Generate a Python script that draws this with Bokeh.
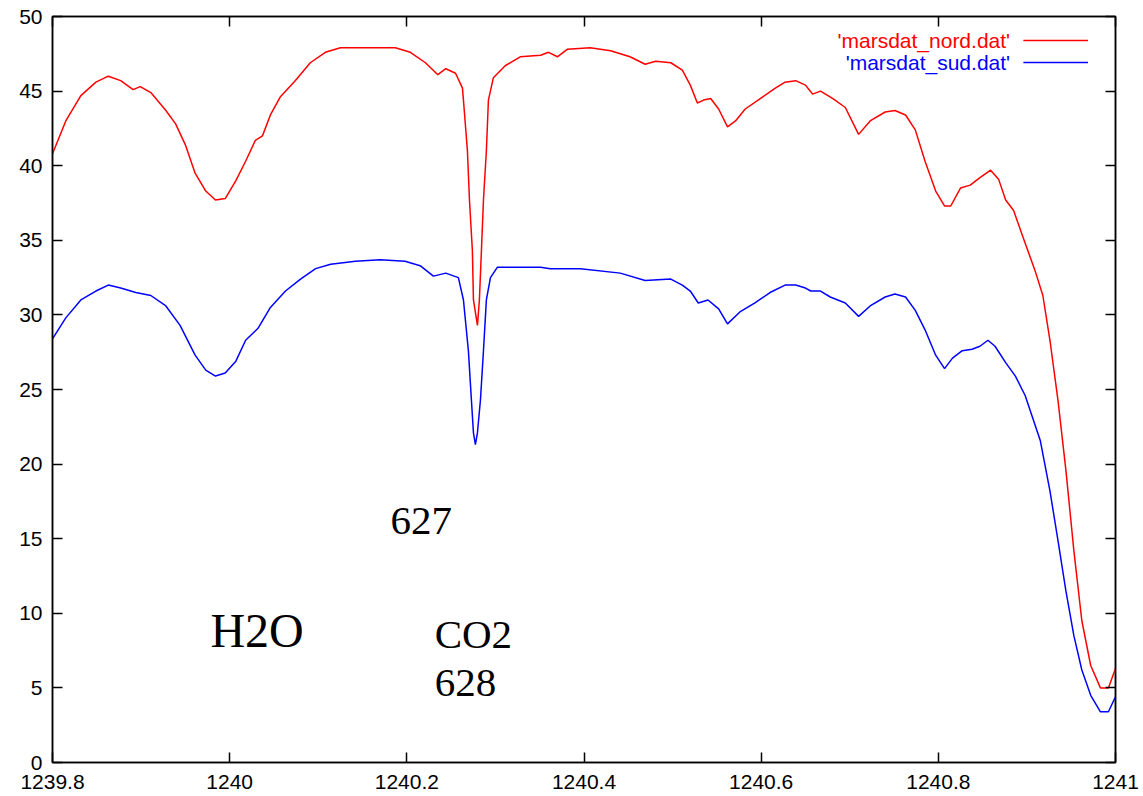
from bokeh.plotting import figure
from bokeh.models import Range1d, FixedTicker, LinearAxis, Label
from bokeh.embed import file_html
from bokeh.resources import INLINE

# ---- data ----
nord_x = [1239.800, 1239.815, 1239.832, 1239.849, 1239.863, 1239.877, 1239.891, 1239.899,
          1239.911, 1239.928, 1239.939, 1239.950, 1239.961, 1239.973, 1239.984, 1239.995,
          1240.007, 1240.018, 1240.029, 1240.037, 1240.046, 1240.057, 1240.074, 1240.091,
          1240.108, 1240.125, 1240.159, 1240.187, 1240.204, 1240.221, 1240.235, 1240.244,
          1240.255, 1240.2628, 1240.2639, 1240.2684, 1240.2707, 1240.2740, 1240.2752,
          1240.2797, 1240.2819, 1240.2842, 1240.2865, 1240.2898, 1240.2921, 1240.2977,
          1240.311, 1240.328, 1240.351, 1240.360, 1240.370, 1240.381,
          1240.407, 1240.430, 1240.452, 1240.469, 1240.481, 1240.498, 1240.511, 1240.520,
          1240.528, 1240.535, 1240.543, 1240.552, 1240.562, 1240.571, 1240.582, 1240.599,
          1240.616, 1240.627, 1240.639, 1240.650, 1240.658, 1240.667, 1240.681, 1240.695,
          1240.710, 1240.723, 1240.740, 1240.751, 1240.763, 1240.774, 1240.785, 1240.797,
          1240.807, 1240.814, 1240.825, 1240.836, 1240.847, 1240.859, 1240.868, 1240.876,
          1240.885, 1240.895, 1240.909, 1240.918, 1240.926, 1240.935, 1240.944, 1240.953,
          1240.962, 1240.972, 1240.983, 1240.992, 1241.000]
nord_y = [40.8, 43.0, 44.7, 45.6, 46.0, 45.7, 45.1, 45.3,
          44.9, 43.7, 42.8, 41.4, 39.5, 38.3, 37.7, 37.8,
          39.0, 40.3, 41.7, 42.0, 43.4, 44.6, 45.7, 46.9,
          47.6, 47.9, 47.9, 47.9, 47.6, 46.9, 46.1, 46.5,
          46.2, 45.2, 44.4, 41.0, 37.7, 34.3, 31.0,
          29.3, 31.0, 34.3, 37.7, 41.0, 44.4, 45.9,
          46.7, 47.3, 47.4, 47.6, 47.3, 47.8,
          47.9, 47.7, 47.3, 46.8, 47.0, 46.9, 46.4, 45.4,
          44.2, 44.4, 44.5, 43.8, 42.6, 43.0, 43.8, 44.5,
          45.2, 45.6, 45.7, 45.4, 44.8, 45.0, 44.5, 43.9,
          42.1, 43.0, 43.6, 43.7, 43.4, 42.4, 40.3, 38.3,
          37.3, 37.3, 38.5, 38.7, 39.2, 39.7, 39.1, 37.7,
          37.0, 35.3, 33.0, 31.3, 28.3, 24.3, 19.6, 14.2,
          9.5, 6.5, 5.0, 5.0, 6.3]

sud_x = [1239.800, 1239.815, 1239.832, 1239.849, 1239.863, 1239.877, 1239.894, 1239.911,
         1239.928, 1239.944, 1239.961, 1239.973, 1239.984, 1239.995, 1240.007, 1240.018,
         1240.032, 1240.046, 1240.063, 1240.080, 1240.097, 1240.114, 1240.142, 1240.170,
         1240.198, 1240.215, 1240.230, 1240.244, 1240.2582, 1240.2639, 1240.2695,
         1240.2729, 1240.2752, 1240.2774, 1240.2797, 1240.2831, 1240.2865, 1240.2898,
         1240.2944, 1240.3023, 1240.322,
         1240.351, 1240.362, 1240.396, 1240.441, 1240.469, 1240.498, 1240.511, 1240.520,
         1240.529, 1240.540, 1240.552, 1240.562, 1240.576, 1240.593, 1240.610, 1240.627,
         1240.639, 1240.650, 1240.656, 1240.667, 1240.678, 1240.695, 1240.710, 1240.723,
         1240.740, 1240.751, 1240.763, 1240.774, 1240.785, 1240.797, 1240.807, 1240.816,
         1240.827, 1240.838, 1240.847, 1240.856, 1240.864, 1240.876, 1240.887, 1240.898,
         1240.915, 1240.926, 1240.935, 1240.944, 1240.953, 1240.962, 1240.972, 1240.983,
         1240.992, 1241.000]
sud_y = [28.4, 29.8, 31.0, 31.6, 32.0, 31.8, 31.5, 31.3,
         30.6, 29.3, 27.3, 26.3, 25.9, 26.1, 26.9, 28.3,
         29.1, 30.5, 31.6, 32.4, 33.1, 33.4, 33.6, 33.7,
         33.6, 33.3, 32.6, 32.8, 32.5, 31.0, 27.6,
         24.3, 22.1, 21.3, 22.1, 24.3, 27.6, 31.0,
         32.5, 33.2, 33.2,
         33.2, 33.1, 33.1, 32.8, 32.3, 32.4, 32.0, 31.6,
         30.8, 31.0, 30.4, 29.4, 30.2, 30.8, 31.5, 32.0,
         32.0, 31.8, 31.6, 31.6, 31.2, 30.8, 29.9, 30.6,
         31.2, 31.4, 31.2, 30.3, 29.0, 27.3, 26.4, 27.1,
         27.6, 27.7, 27.9, 28.3, 27.9, 26.8, 25.9, 24.6,
         21.6, 18.2, 14.9, 11.5, 8.5, 6.2, 4.5, 3.4,
         3.4, 4.4]

series_names = ["'marsdat_nord.dat'", "'marsdat_sud.dat'"]
series_colors = ["#ff0000", "#0000ff"]

x_ticks = [1239.8, 1240.0, 1240.2, 1240.4, 1240.6, 1240.8, 1241.0]
x_tick_labels = ["1239.8", "1240", "1240.2", "1240.4", "1240.6", "1240.8", "1241"]
y_ticks = [0, 5, 10, 15, 20, 25, 30, 35, 40, 45, 50]

annotations = ["627", "H2O", "CO2", "628"]
ann_x = [1240.1815, 1239.9783, 1240.2314, 1240.2314]
ann_y = [16.2, 8.85, 8.6, 5.3]
ann_size = ["41px", "48px", "41px", "41px"]

# ---- figure ----
p = figure(width=1143, height=796, output_backend="svg", toolbar_location=None,
           x_range=Range1d(1239.8, 1241.0), y_range=Range1d(0, 50),
           min_border_left=52, min_border_right=28, min_border_top=16, min_border_bottom=34)
p.background_fill_color = "white"
p.border_fill_color = "white"
p.outline_line_color = "black"
p.outline_line_width = 1.5
p.xgrid.visible = False
p.ygrid.visible = False

def style_axis(ax, ticks, show_labels):
    ax.ticker = FixedTicker(ticks=ticks)
    ax.axis_line_color = "black"
    ax.axis_line_width = 1.5
    ax.major_tick_in = 10
    ax.major_tick_out = 0
    ax.major_tick_line_width = 1.5
    ax.minor_tick_line_color = None
    ax.major_label_text_font = "Liberation Sans"
    ax.major_label_text_font_size = "21px" if show_labels else "0px"
    ax.major_label_text_color = "black" if show_labels else None
    ax.major_label_standoff = 7

style_axis(p.xaxis[0], x_ticks, True)
p.xaxis[0].major_label_overrides = {t: l for t, l in zip(x_ticks, x_tick_labels)}
p.xaxis[0].major_label_standoff = 12
style_axis(p.yaxis[0], y_ticks, True)
p.yaxis[0].major_label_standoff = 10

top_axis = LinearAxis()
style_axis(top_axis, x_ticks, False)
p.add_layout(top_axis, "above")
right_axis = LinearAxis()
style_axis(right_axis, y_ticks, False)
p.add_layout(right_axis, "right")

p.line(nord_x, nord_y, line_color=series_colors[0], line_width=1.5)
p.line(sud_x, sud_y, line_color=series_colors[1], line_width=1.5)

# legend (gnuplot style: text right-aligned, sample line to the right)
leg_text_x = 1240.881
leg_line_x0, leg_line_x1 = 1240.896, 1240.969
leg_y = [48.39, 46.92]
for name, col, yy in zip(series_names, series_colors, leg_y):
    p.add_layout(Label(x=leg_text_x, y=yy, text=name, text_align="right",
                       text_baseline="middle", text_color=col,
                       text_font="Liberation Sans", text_font_size="21px"))
    p.segment(x0=[leg_line_x0], y0=[yy], x1=[leg_line_x1], y1=[yy],
              line_color=col, line_width=1.5)

for t, xx, yy, fs in zip(annotations, ann_x, ann_y, ann_size):
    p.add_layout(Label(x=xx, y=yy, text=t, text_align="left", text_baseline="alphabetic",
                       text_color="black", text_font="Liberation Serif", text_font_size=fs))

open("out.html", "w").write(file_html(p, INLINE))
